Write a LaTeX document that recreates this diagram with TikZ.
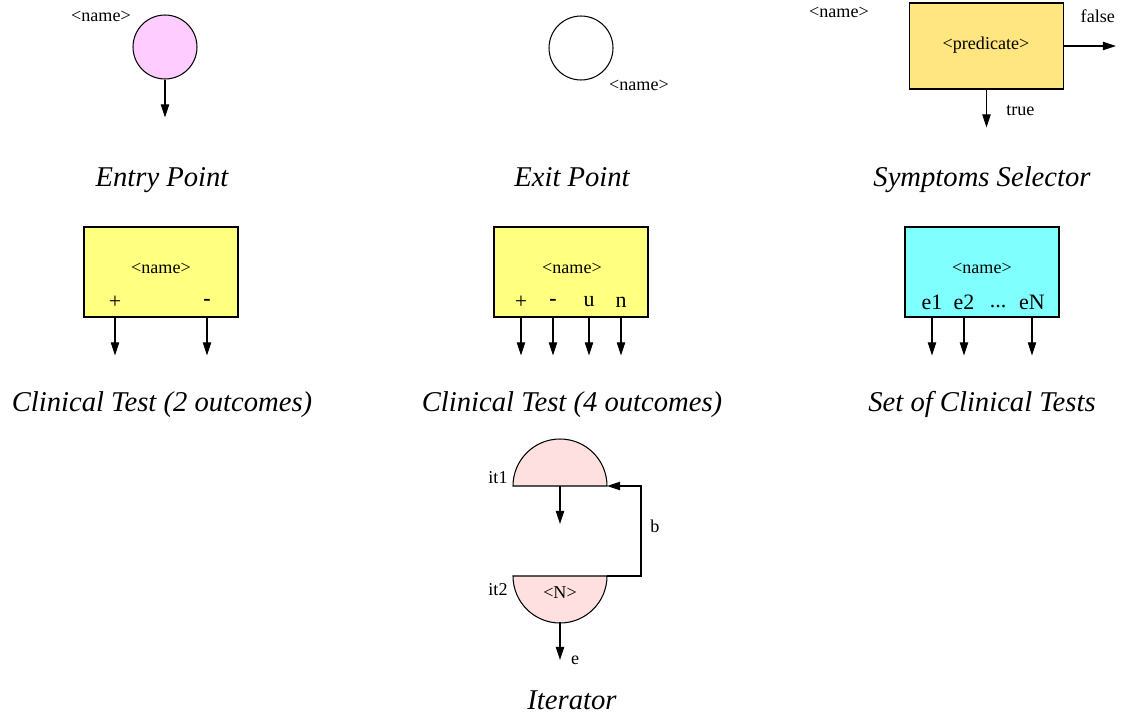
\documentclass[tikz,border=0pt]{standalone}
\usepackage{fontspec}
\setmainfont{Liberation Serif}
\usetikzlibrary{arrows.meta}
\definecolor{entrypink}{RGB}{255,204,255}
\definecolor{selyellow}{RGB}{255,230,128}
\definecolor{testyellow}{RGB}{255,255,128}
\definecolor{setcyan}{RGB}{128,255,255}
\definecolor{iterpink}{RGB}{255,224,224}
\tikzset{
  flow/.style={-{Triangle[length=7.5pt,width=4.8pt]}},
  tag/.style={font=\fontsize{10.3}{12}\selectfont, inner sep=0pt},
  port/.style={font=\fontsize{12.5}{14}\selectfont, inner sep=0pt},
  caption/.style={font=\fontsize{16.3}{20}\selectfont\itshape, inner sep=0pt, anchor=base},
  pointcirc/.style={circle, draw, minimum size=1.28cm, inner sep=0pt},
  testbox/.style={draw, minimum width=3.08cm, minimum height=1.8cm, inner sep=0pt}
}
\begin{document}
\begin{tikzpicture}[x=0.02cm, y=-0.02cm, line width=0.6pt]
    \useasboundingbox (0,0) rectangle (1123,717);
    % entry point
    \node[pointcirc, fill=entrypink] (entry) at (165,47) {};
    \node[tag] (entryname) at (101,16) {<name>};
    \draw[flow] (entry.south) -- ++(0,38);
    \node[caption] (entrycap) at (162,186) {Entry Point};
    % exit point
    \node[pointcirc] (exit) at (581,48) {};
    \node[tag] (exitname) at (639,85) {<name>};
    \node[caption] (exitcap) at (572,186) {Exit Point};
    % symptoms selector
    \node[testbox, fill=selyellow, minimum height=1.72cm] (sel) at (986.5,46) {};
    \node[tag] (pred) at (986,45) {<predicate>};
    \node[tag] (selname) at (839,12) {<name>};
    \draw[flow] (sel.east) -- ++(52,0) node[tag, pos=.65, above=13pt] {false};
    \draw[flow] (sel.south) -- ++(0,38) node[tag, pos=.55, right=11pt] {true};
    \node[caption] (selcap) at (982,186) {Symptoms Selector};
    % clinical test, 2 outcomes
    \node[testbox, fill=testyellow] (ctwo) at (161,272) {};
    \node[tag] at (161,268) {<name>};
    \node[port] (tplus) at (115,302) {+};
    \node[port] (tminus) at (207,302) {\textbf{-}};
    \foreach \p in {tplus,tminus}
      \draw[flow] (ctwo.south -| \p) -- ++(0,38);
    \node[caption] (ctwocap) at (162,411) {Clinical Test (2 outcomes)};
    % clinical test, 4 outcomes
    \node[testbox, fill=testyellow] (cfour) at (571,272) {};
    \node[tag] at (572,268) {<name>};
    \node[port] (fplus) at (521,302) {+};
    \node[port] (fminus) at (553,302) {\textbf{-}};
    \node[port] (fu) at (589,302) {u};
    \node[port] (fn) at (621,302) {n};
    \foreach \p in {fplus,fminus,fu,fn}
      \draw[flow] (cfour.south -| \p) -- ++(0,38);
    \node[caption] (cfourcap) at (572,411) {Clinical Test (4 outcomes)};
    % set of clinical tests
    \node[testbox, fill=setcyan] (cset) at (982,272) {};
    \node[tag] at (982,268) {<name>};
    \node[port] (eone) at (932,302) {e1};
    \node[port] (etwo) at (964,302) {e2};
    \node[port, anchor=base] (edots) at (998,307) {{.}{.}{.}};
    \node[port] (elast) at (1032,302) {eN};
    \foreach \p in {eone,etwo,elast}
      \draw[flow] (cset.south -| \p) -- ++(0,38);
    \node[caption] (csetcap) at (982,411) {Set of Clinical Tests};
    % iterator
    \coordinate (itone) at (560,486);
    \coordinate (ittwo) at (560,576);
    \filldraw[fill=iterpink] (itone) ++(-47,0) arc (180:360:47) -- cycle;
    \filldraw[fill=iterpink] (ittwo) ++(-47,0) arc (180:0:47) -- cycle;
    \coordinate (itoneend) at (607,486);
    \coordinate (ittwoend) at (607,576);
    \node[tag] at (498,478) {it1};
    \node[tag] at (498,590) {it2};
    \node[tag] (count) at (560,593) {<N>};
    \draw[flow] (itone) -- ++(0,38);
    \draw[flow] (ittwo) ++(0,46) -- ++(0,38) node[tag, pos=1, right=6pt] {e};
    \draw[flow] (ittwoend) -- ++(34,0) |- (itoneend);
    \node[tag] (back) at (655,526) {b};
    \node[caption] (itcap) at (572,709) {Iterator};
\end{tikzpicture}
\end{document}
